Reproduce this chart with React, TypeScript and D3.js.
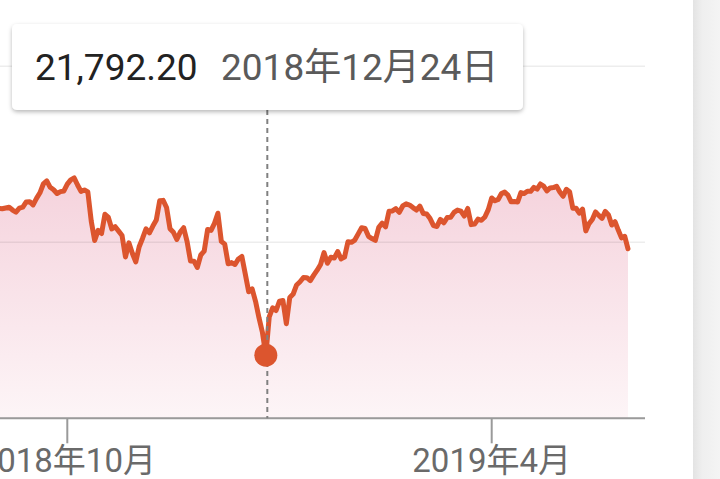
import React from "react";
import * as d3 from "d3";

// Daily closes, [day of month, close]
const aug2018: [number, number][] = [[31, 25964.82]];
const sep2018: [number, number][] = [
  [4, 25952.48], [5, 25974.99], [6, 25995.87], [7, 25916.54], [10, 25857.07], [11, 25971.06], [12, 25998.92],
  [13, 26145.99], [14, 26154.67], [17, 26062.12], [18, 26246.96], [19, 26405.76], [20, 26656.98], [21, 26743.5],
  [24, 26562.05], [25, 26492.21], [26, 26385.28], [27, 26439.93], [28, 26458.31],
];
const oct2018: [number, number][] = [
  [1, 26651.21], [2, 26773.94], [3, 26828.39], [4, 26627.48], [5, 26447.05], [8, 26486.78], [9, 26430.57],
  [10, 25598.74], [11, 25052.83], [12, 25339.99], [15, 25250.55], [16, 25798.42], [17, 25706.68], [18, 25379.45],
  [19, 25444.34], [22, 25317.41], [23, 25191.43], [24, 24583.42], [25, 24984.55], [26, 24688.31], [29, 24442.92],
  [30, 24874.64], [31, 25115.76],
];
const nov2018: [number, number][] = [
  [1, 25380.74], [2, 25270.83], [5, 25461.7], [6, 25635.01], [7, 26180.3], [8, 26191.22], [9, 25989.3],
  [12, 25387.18], [13, 25286.49], [14, 25080.5], [15, 25289.27], [16, 25413.22], [19, 25017.44], [20, 24465.64],
  [21, 24464.69], [23, 24285.95], [26, 24640.24], [27, 24748.73], [28, 25366.43], [29, 25338.84], [30, 25538.46],
];
const dec2018: [number, number][] = [
  [3, 25826.43], [4, 25027.07], [6, 24947.67], [7, 24388.95], [10, 24423.26], [11, 24370.24], [12, 24527.27],
  [13, 24597.38], [14, 24100.51], [17, 23592.98], [18, 23675.64], [19, 23323.66], [20, 22859.6], [21, 22445.37],
  [24, 21792.2], [26, 22878.45], [27, 23138.82], [28, 23062.4], [31, 23327.46],
];
const jan2019: [number, number][] = [
  [2, 23346.24], [3, 22686.22], [4, 23433.16], [7, 23531.35], [8, 23787.45], [9, 23879.12], [10, 24001.92],
  [11, 23995.95], [14, 23909.84], [15, 24065.59], [16, 24207.16], [17, 24370.1], [18, 24706.35], [22, 24404.48],
  [23, 24575.62], [24, 24553.24], [25, 24737.2], [28, 24528.22], [29, 24579.96], [30, 25014.86], [31, 24999.67],
];
const feb2019: [number, number][] = [
  [1, 25063.89], [4, 25239.37], [5, 25411.52], [6, 25390.3], [7, 25169.53], [8, 25106.33], [11, 25053.11],
  [12, 25425.76], [13, 25543.27], [14, 25439.39], [15, 25883.25], [19, 25891.32], [20, 25954.44], [21, 25850.63],
  [22, 26031.81], [25, 26091.95], [26, 26057.98], [27, 25985.16], [28, 25916.0],
];
const mar2019: [number, number][] = [
  [1, 26026.32], [4, 25819.65], [5, 25806.63], [6, 25673.46], [7, 25473.23], [8, 25450.24], [11, 25650.88],
  [12, 25554.66], [13, 25702.89], [14, 25709.94], [15, 25848.87], [18, 25914.1], [19, 25887.38], [20, 25745.67],
  [21, 25962.51], [22, 25502.32], [25, 25516.83], [26, 25657.73], [27, 25625.59], [28, 25717.46], [29, 25928.68],
];
const apr2019: [number, number][] = [
  [1, 26258.42], [2, 26179.13], [3, 26218.13], [4, 26384.63], [5, 26424.99], [8, 26341.02], [9, 26150.58],
  [10, 26157.16], [11, 26143.05], [12, 26412.3], [15, 26384.77], [16, 26452.66], [17, 26449.54], [18, 26559.54],
  [22, 26511.05], [23, 26656.39], [24, 26597.05], [25, 26462.08], [26, 26543.33], [29, 26554.39], [30, 26592.91],
];
const may2019: [number, number][] = [
  [1, 26430.14], [2, 26307.79], [3, 26504.95], [6, 26438.48], [7, 25965.09], [8, 25967.33], [9, 25828.36],
  [10, 25942.37], [13, 25324.99], [14, 25532.05], [15, 25648.02], [16, 25862.68], [17, 25764.0], [20, 25679.9],
  [21, 25877.33], [22, 25776.61], [23, 25490.47], [24, 25585.69], [28, 25347.77], [29, 25126.41], [30, 25169.88],
  [31, 24815.04],
];

const monthList: [number, number, [number, number][]][] = [
  [2018, 8, aug2018], [2018, 9, sep2018], [2018, 10, oct2018], [2018, 11, nov2018], [2018, 12, dec2018],
  [2019, 1, jan2019], [2019, 2, feb2019], [2019, 3, mar2019], [2019, 4, apr2019], [2019, 5, may2019],
];

const gridValues = [20000, 25000, 30000];
const tickDates = ["2018-10-01", "2019-04-01"];
const highlightDate = "2018-12-24";

const W = 720;
const H = 479;
const FONT = "Roboto, 'Noto Sans CJK JP', 'Noto Sans', sans-serif";
const LINE = "#dc552e";

type Pt = { key: string; date: Date; value: number; i: number };

export default function App() {
  const parse = d3.timeParse("%Y-%m-%d");
  const fmtKey = d3.timeFormat("%Y-%m-%d");
  const series: Pt[] = [];
  monthList.forEach(([yy, mm, rows]) => {
    rows.forEach(([dd, v]) => {
      const date = new Date(yy, mm - 1, dd);
      series.push({ key: fmtKey(date), date, value: v, i: series.length });
    });
  });
  const idx = (k: string) => series.findIndex((p) => p.key === k);
  const iFirstTick = idx(tickDates[0]);
  const iSecondTick = idx(tickDates[1]);
  const iLast = series.length - 1;

  const x = d3
    .scaleLinear()
    .domain([iFirstTick, iSecondTick, iLast])
    .range([67.3, 491.7, 628]);
  const y = d3.scaleLinear().domain([20000, 30000]).range([418.3, 66.3]);

  const plotRight = 645;
  const baseY = y(20000);

  const line = d3
    .line<Pt>()
    .x((d) => x(d.i))
    .y((d) => y(d.value));
  const area = d3
    .area<Pt>()
    .x((d) => x(d.i))
    .y0(baseY)
    .y1((d) => y(d.value));

  const hp = series[idx(highlightDate)];
  const hx = x(hp.i) + 1.5;
  const hy = y(hp.value);
  const fmtVal = d3.format(",.2f");
  const fmtDate = d3.timeFormat("%Y年%-m月%-d日");
  const fmtTick = d3.timeFormat("%Y年%-m月");

  return (
    <svg
      width={W}
      height={H}
      style={{ position: "absolute", left: 0, top: 0, background: "#fff", fontFamily: FONT }}
    >
      <defs>
        <linearGradient id="areaGrad" gradientUnits="userSpaceOnUse" x1="0" y1="175" x2="0" y2={baseY}>
          <stop offset="0%" stopColor="#f5d2dc" />
          <stop offset="100%" stopColor="#fdf5f7" />
        </linearGradient>
        <linearGradient id="sideGrad" x1="0" y1="0" x2="1" y2="0">
          <stop offset="0%" stopColor="#e3e3e3" />
          <stop offset="35%" stopColor="#efefef" />
          <stop offset="100%" stopColor="#f4f4f4" />
        </linearGradient>
        <clipPath id="plotClip">
          <rect x={0} y={0} width={plotRight} height={H} />
        </clipPath>
        <filter id="tipShadow" x="-10%" y="-20%" width="120%" height="150%">
          <feDropShadow dx="0" dy="2" stdDeviation="2" floodColor="#000" floodOpacity="0.28" />
        </filter>
      </defs>

      <rect x={693} y={0} width={W - 693} height={H} fill="url(#sideGrad)" />

      <g clipPath="url(#plotClip)">
        <path d={area(series) || ""} fill="url(#areaGrad)" />
        {gridValues.map((g) => (
          <line key={g} x1={0} x2={plotRight} y1={y(g)} y2={y(g)} stroke="rgba(0,0,0,0.07)" strokeWidth={1.5} />
        ))}
        <path
          d={line(series) || ""}
          fill="none"
          stroke={LINE}
          strokeWidth={5}
          strokeLinejoin="round"
          strokeLinecap="round"
        />
      </g>

      {/* x axis */}
      <line x1={0} x2={plotRight} y1={baseY} y2={baseY} stroke="#9a9a9a" strokeWidth={2} />
      {tickDates.map((t) => {
        const p = series[idx(t)];
        const tx = x(p.i);
        return (
          <g key={t}>
            <line x1={tx} x2={tx} y1={baseY} y2={baseY + 25} stroke="#9a9a9a" strokeWidth={2} />
            <text x={tx} y={472} textAnchor="middle" fontSize={33} fill="#6a6a6a">
              {fmtTick(parse(t) as Date)}
            </text>
          </g>
        );
      })}

      {/* hover */}
      <line x1={hx} x2={hx} y1={110} y2={baseY} stroke="#808080" strokeWidth={2} strokeDasharray="5 4" />
      <circle cx={x(hp.i)} cy={hy} r={11.5} fill={LINE} />

      <g filter="url(#tipShadow)">
        <rect x={12} y={24} width={511} height={86} rx={5} fill="#fff" />
      </g>
      <text x={35} y={79.5} fontSize={37} fill="#222">
        {fmtVal(hp.value)}
      </text>
      <text x={221} y={79.5} fontSize={37} fill="#5a5a5a">
        {fmtDate(hp.date)}
      </text>
    </svg>
  );
}
